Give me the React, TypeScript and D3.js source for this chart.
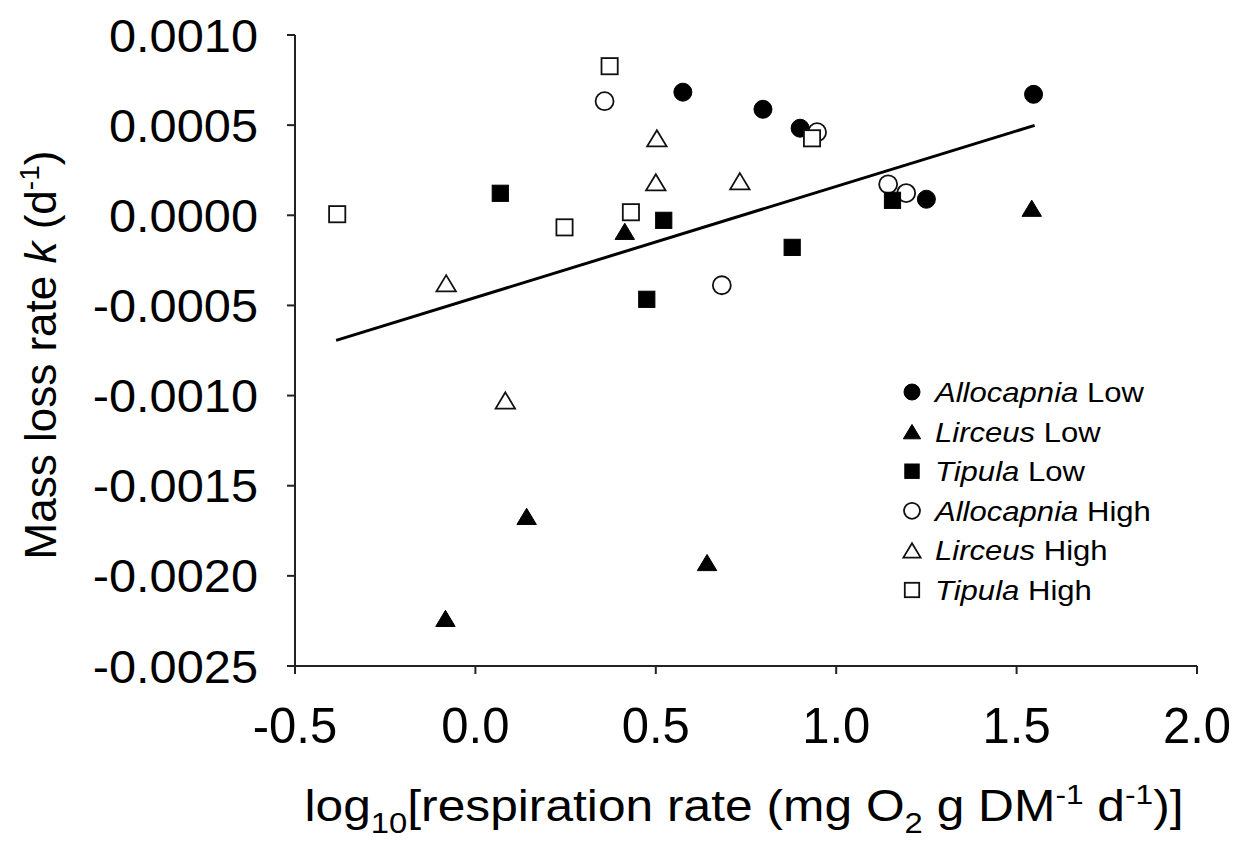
import React from "react";
import * as d3 from "d3";

// log10 respiration (x) vs mass loss rate k (y)
const allocapniaLow: [number, number][] = [
  [0.575, 0.000683], [0.797, 0.000588], [0.9, 0.000483], [1.25, 0.000089], [1.547, 0.000671],
];
const lirceusLow: [number, number][] = [
  [0.414, -0.000089], [1.542, 0.000039], [0.142, -0.00167], [0.642, -0.001926], [-0.083, -0.002236],
];
const tipulaLow: [number, number][] = [
  [0.069, 0.000122], [0.522, -0.000028], [0.475, -0.000466], [0.878, -0.000178], [1.156, 0.000083],
];
const allocapniaHigh: [number, number][] = [
  [0.358, 0.000633], [0.947, 0.000461], [1.194, 0.000123], [1.144, 0.000172], [0.683, -0.000388],
];
const lirceusHigh: [number, number][] = [
  [0.503, 0.000427], [0.5, 0.000183], [0.733, 0.000189], [-0.081, -0.000377], [0.083, -0.001027],
];
const tipulaHigh: [number, number][] = [
  [0.372, 0.000827], [0.933, 0.000427], [-0.383, 0.000006], [0.247, -0.000067], [0.431, 0.000017],
];

// fitted regression line end points
const fitLine: [number, number][] = [[-0.386, -0.000694], [1.55, 0.000499]];

const xTicks = [-0.5, 0.0, 0.5, 1.0, 1.5, 2.0];
const yTicks = [0.001, 0.0005, 0.0, -0.0005, -0.001, -0.0015, -0.002, -0.0025];

type Shape = "circle" | "triangle" | "square";
interface Series {
  genus: string;
  level: string;
  shape: Shape;
  filled: boolean;
  points: [number, number][];
}

// legend order
const legendSeries: Series[] = [
  { genus: "Allocapnia", level: "Low", shape: "circle", filled: true, points: allocapniaLow },
  { genus: "Lirceus", level: "Low", shape: "triangle", filled: true, points: lirceusLow },
  { genus: "Tipula", level: "Low", shape: "square", filled: true, points: tipulaLow },
  { genus: "Allocapnia", level: "High", shape: "circle", filled: false, points: allocapniaHigh },
  { genus: "Lirceus", level: "High", shape: "triangle", filled: false, points: lirceusHigh },
  { genus: "Tipula", level: "High", shape: "square", filled: false, points: tipulaHigh },
];
// drawing order (open squares end up on top like in the original)
const drawOrder = [3, 4, 0, 1, 2, 5];

const FONT = "'Liberation Sans', Arial, sans-serif";
const SX = 1.13; // the original figure is slightly stretched horizontally

function Marker({ shape, filled, cx, cy, s }: { shape: Shape; filled: boolean; cx: number; cy: number; s: number }) {
  const fill = filled ? "#000" : "#fff";
  const stroke = filled ? "#000" : "#111";
  const sw = filled ? 1 : 1.8;
  if (shape === "circle") {
    return <circle cx={cx} cy={cy} r={s / 2} fill={fill} stroke={stroke} strokeWidth={sw} />;
  }
  if (shape === "square") {
    const a = s * 0.9;
    return <rect x={cx - a / 2} y={cy - a / 2} width={a} height={a} fill={fill} stroke={stroke} strokeWidth={sw} />;
  }
  const w = s * 1.08;
  const h = s * 0.9;
  const d = `M${cx},${cy - h / 2}L${cx + w / 2},${cy + h / 2}L${cx - w / 2},${cy + h / 2}Z`;
  return <path d={d} fill={fill} stroke={stroke} strokeWidth={sw} strokeLinejoin="miter" />;
}

export default function App() {
  const width = 1238;
  const height = 844;

  const x = d3.scaleLinear().domain([-0.5, 2.0]).range([295, 1197]);
  const y = d3.scaleLinear().domain([-0.0025, 0.001]).range([666, 35]);

  const line = d3
    .line<[number, number]>()
    .x((d) => x(d[0]))
    .y((d) => y(d[1]));

  const axisColor = "#222";
  const tickLen = 8;
  const legendX = 912;
  const legendY = 392;
  const legendStep = 39.6;

  return (
    <div style={{ position: "absolute", left: 0, top: 0 }}>
      <svg width={width} height={height} style={{ display: "block", background: "#fff" }} fontFamily={FONT}>
        <rect width={width} height={height} fill="#fff" />

        {/* axes */}
        <line x1={x(-0.5)} x2={x(-0.5)} y1={y(0.001)} y2={y(-0.0025)} stroke={axisColor} strokeWidth={2} />
        <line x1={x(-0.5)} x2={x(2.0)} y1={y(-0.0025)} y2={y(-0.0025)} stroke={axisColor} strokeWidth={2} />

        {yTicks.map((t) => (
          <g key={"y" + t}>
            <line x1={x(-0.5) - tickLen} x2={x(-0.5)} y1={y(t)} y2={y(t)} stroke={axisColor} strokeWidth={2} />
            <text
              transform={`translate(${x(-0.5) - 37},${y(t) + 16.5}) scale(1.06,1)`}
              textAnchor="end"
              fontSize={46}
              fill="#000"
            >
              {t.toFixed(4).replace(/^-0\.0000$/, "0.0000")}
            </text>
          </g>
        ))}

        {xTicks.map((t) => (
          <g key={"x" + t}>
            <line x1={x(t)} x2={x(t)} y1={y(-0.0025)} y2={y(-0.0025) + tickLen} stroke={axisColor} strokeWidth={2} />
            <text transform={`translate(${x(t)},${743}) scale(0.98,1)`} textAnchor="middle" fontSize={50} fill="#000">
              {t.toFixed(1)}
            </text>
          </g>
        ))}

        {/* regression line */}
        <path d={line(fitLine) || ""} fill="none" stroke="#000" strokeWidth={3} />

        {/* points */}
        {drawOrder.map((i) => {
          const s = legendSeries[i];
          return (
            <g key={"s" + i}>
              {s.points.map((p, j) => (
                <Marker key={j} shape={s.shape} filled={s.filled} cx={x(p[0])} cy={y(p[1])} s={18} />
              ))}
            </g>
          );
        })}

        {/* legend */}
        {legendSeries.map((s, i) => {
          const cy = legendY + i * legendStep;
          return (
            <g key={"l" + i}>
              <Marker shape={s.shape} filled={s.filled} cx={legendX} cy={cy} s={16} />
              <text transform={`translate(${legendX + 23},${cy + 10}) scale(${SX},1)`} fontSize={27.5} fill="#000">
                <tspan fontStyle="italic">{s.genus}</tspan> {s.level}
              </text>
            </g>
          );
        })}

        {/* y axis title */}
        <text transform="translate(56,355) rotate(-90)" textAnchor="middle" fontSize={44} fill="#000">
          Mass loss rate <tspan fontStyle="italic">k</tspan> (d
          <tspan fontSize={28} dy={-17}>-1</tspan>
          <tspan dy={17}>)</tspan>
        </text>

        {/* x axis title */}
        <text transform={`translate(744,821) scale(${SX},1)`} textAnchor="middle" fontSize={44} fill="#000">
          log<tspan fontSize={29} dy={12}>10</tspan>
          <tspan dy={-12}>[respiration rate (mg O</tspan>
          <tspan fontSize={29} dy={12}>2</tspan>
          <tspan dy={-12}> g DM</tspan>
          <tspan fontSize={28} dy={-17}>-1</tspan>
          <tspan dy={17}> d</tspan>
          <tspan fontSize={28} dy={-17}>-1</tspan>
          <tspan dy={17}>)]</tspan>
        </text>
      </svg>
    </div>
  );
}
